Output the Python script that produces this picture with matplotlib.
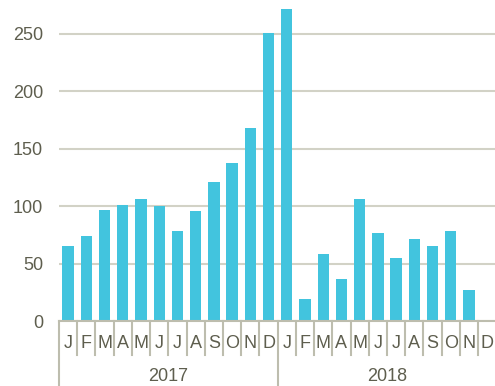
import numpy as np
import matplotlib
matplotlib.use("Agg")
import matplotlib.pyplot as plt
from matplotlib.transforms import blended_transform_factory

# monthly values, 2017 then 2018 (2018 Dec has no bar)
months = ["J", "F", "M", "A", "M", "J", "J", "A", "S", "O", "N", "D"]
years = ["2017", "2018"]
values_2017 = [65, 74, 97, 101, 106, 100, 78, 96, 121, 138, 168, 251]
values_2018 = [272, 19, 58, 37, 106, 77, 55, 71, 65, 78, 27, np.nan]

values = values_2017 + values_2018
labels = months * len(years)
x = np.arange(len(values))

bar_color = "#42C4DE"
text_color = "#5E5E4E"
grid_color = "#D2D2C6"
axis_color = "#BDBDAE"

plt.rcParams["font.family"] = ["Liberation Sans", "DejaVu Sans"]

fig = plt.figure(figsize=(4.95, 3.86), dpi=100)
ax = fig.add_axes([59 / 495, 65 / 386, 437.3 / 495, 321 / 386])

ax.bar(x, values, width=0.62, color=bar_color, zorder=3)

ax.set_xlim(-0.5, len(values) - 0.5)
ax.set_ylim(0, 279.6)
ax.set_yticks([0, 50, 100, 150, 200, 250])
ax.tick_params(axis="y", length=0, pad=11.5, labelsize=13, labelcolor=text_color)
ax.set_xticks([])
ax.yaxis.grid(True, color=grid_color, linewidth=1.5, zorder=0)
for s in ["top", "right", "left"]:
    ax.spines[s].set_visible(False)
ax.spines["bottom"].set_color(axis_color)
ax.spines["bottom"].set_linewidth(1.5)
ax.spines["bottom"].set_zorder(4)

# two-level category axis drawn below the plot
tr = blended_transform_factory(ax.transData, ax.transAxes)
for i, lab in enumerate(labels):
    ax.text(i, -0.070, lab, transform=tr, ha="center", va="center",
            fontsize=13, color=text_color, clip_on=False)
for i in range(len(values) + 1):
    bottom = -0.2025 if i % 12 == 0 else -0.106
    ax.plot([i - 0.5, i - 0.5], [0, bottom], transform=tr, color=axis_color,
            linewidth=1.5, clip_on=False)
for j, yr in enumerate(years):
    ax.text(j * 12 + 5.5, -0.173, yr, transform=tr, ha="center", va="center",
            fontsize=13, color=text_color, clip_on=False)

fig.savefig("out.png", dpi=100)
